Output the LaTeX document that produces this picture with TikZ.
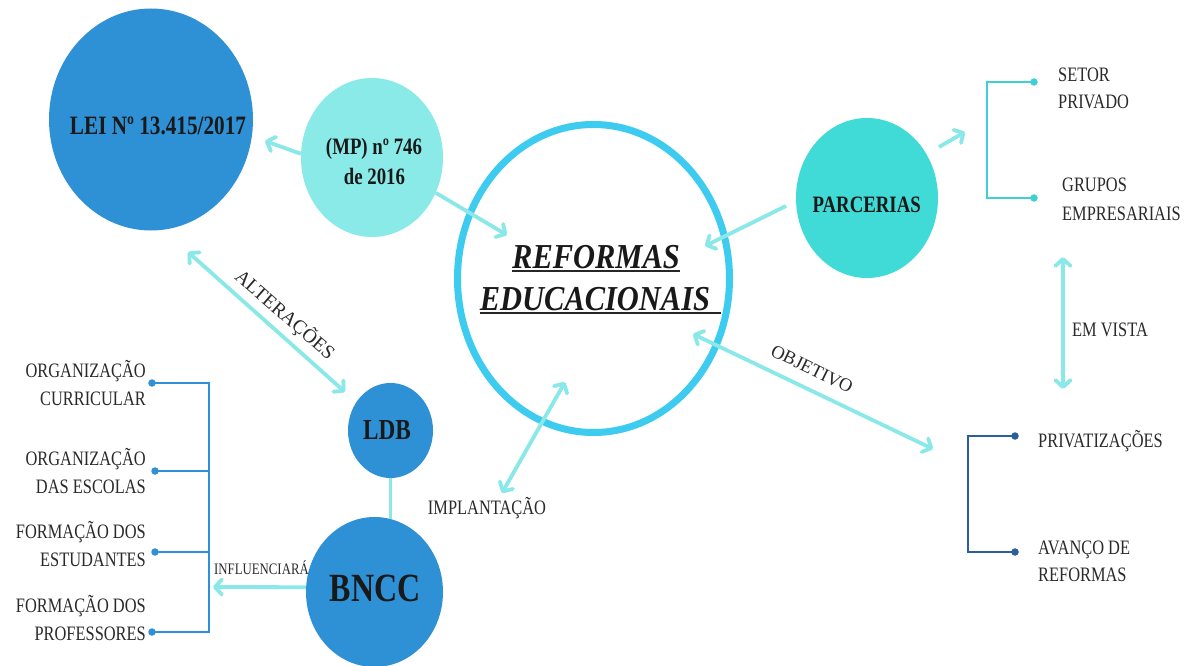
\documentclass[tikz,border=0pt]{standalone}
\usepackage{fontspec}
\setmainfont{Liberation Serif}[FakeStretch=0.8]
\newfontfamily\titlefont{Liberation Serif}[FakeStretch=0.87]
\newfontfamily\plainfont{Liberation Serif}
\usetikzlibrary{shapes.geometric,arrows.meta}
\newcommand\fsz[1]{\fontsize{#1}{#1}\selectfont}
\definecolor{deepblue}{HTML}{2E90D5}
\definecolor{mpcol}{HTML}{8AEAE7}
\definecolor{parccol}{HTML}{40DBD6}
\definecolor{ringcol}{HTML}{3DCBF0}
\definecolor{arrowc}{HTML}{8BE8E8}
\definecolor{brleft}{HTML}{2F8FD9}
\definecolor{brtop}{HTML}{3FCFD6}
\definecolor{brbot}{HTML}{2A5E9C}
\definecolor{labelc}{HTML}{2A2A2A}
\tikzset{
  blob/.style={ellipse, inner sep=0pt, draw=none},
  bt/.style={inner sep=0pt, text=black!90, anchor=base},
  lbl/.style={inner sep=0pt, text=labelc, font=\fsz{20.5}},
  slant/.style={inner sep=0pt, text=labelc},
  arr/.style={draw=arrowc, line width=3.8pt, -{Straight Barb[length=7pt,width=15pt,round]}},
  dbl/.style={draw=arrowc, line width=3.8pt, {Straight Barb[length=7pt,width=15pt,round]}-{Straight Barb[length=7pt,width=15pt,round]}},
  brk/.style={line width=2.8pt},
  brdot/.style={circle, inner sep=0pt, minimum size=7.5pt},
}
\begin{document}
\begin{tikzpicture}[x=1pt,y=-1pt]
\fill[white] (0,0) rectangle (1189,666);
\useasboundingbox (0,0) rectangle (1189,666);

% main circles
\node[blob, fill=deepblue, minimum width=204pt, minimum height=222pt] (lei) at (151,119.5) {};
\node[blob, fill=mpcol, minimum width=142pt, minimum height=159pt] (mp) at (372,157.5) {};
\node[blob, draw=ringcol, line width=7pt, minimum width=272pt, minimum height=308pt] (ref) at (593.5,278.5) {};
\node[blob, fill=parccol, minimum width=142pt, minimum height=160pt] (parc) at (867,198) {};
\node[blob, fill=deepblue, minimum width=85pt, minimum height=95pt] (ldb) at (390.5,430.5) {};
\node[blob, fill=deepblue, minimum width=137pt, minimum height=150pt] (bncc) at (374.5,592) {};

% texts inside circles
\node[bt, font=\bfseries\fsz{26.5}] (leiT) at (158,135) {LEI Nº 13.415/2017};
\node[bt, font=\bfseries\fsz{23.5}] (mpT1) at (374,155) {(MP) nº 746};
\node[bt, font=\bfseries\fsz{23.5}] (mpT2) at (374.5,185) {de 2016};
\node[bt, font=\bfseries\fsz{23.5}] (parcT) at (866.7,212.3) {PARCERIAS};
\node[bt, font=\bfseries\fsz{29}] (ldbT) at (387,439.3) {LDB};
\node[bt, font=\bfseries\fsz{40}] (bnccT) at (375,601.7) {BNCC};

% title in the ring
\node[bt, font=\titlefont\bfseries\itshape\fsz{35}] (refT1) at (596,268) {REFORMAS};
\node[bt, font=\titlefont\bfseries\itshape\fsz{35}] (refT2) at (595,310) {EDUCACIONAIS};
\draw[line width=2pt, black!85] ([yshift=-3pt]refT1.base west) -- ([yshift=-3pt]refT1.base east);
\draw[line width=2pt, black!85] ([yshift=-3pt]refT2.base west) -- ([yshift=-3pt,xshift=11pt]refT2.base east);

% arrow end points
\coordinate (leiIn) at (265,141);
\coordinate (refInA) at (507,235);
\coordinate (altA) at (188,252);
\coordinate (altB) at (345,392);
\coordinate (infTip) at (213,587);
\coordinate (impA) at (502,493);
\coordinate (impB) at (565,382);
\coordinate (objA) at (693,334);
\coordinate (objB) at (933,449);
\coordinate (parcOut) at (786,206);
\coordinate (refInB) at (705,246);
\coordinate (parcUp) at (939,147);
\coordinate (parcTip) at (965,132);
\coordinate (vistaA) at (1063,257);
\coordinate (vistaB) at (1063,389);

% connectors
\draw[arr] (mp.177) -- (leiIn);
\draw[arr] (mp.-29) -- (refInA);
\draw[dbl] (altA) -- (altB);
\draw[draw=arrowc, line width=3.8pt] (ldb.south) -- ([yshift=-2pt]ldb.south |- bncc.north);
\draw[arr] (bncc.176) -- (infTip);
\draw[dbl] (impA) -- (impB);
\draw[dbl] (objA) -- (objB);
\draw[arr] (parcOut) -- (refInB);
\draw[arr] (parcUp) -- (parcTip);
\draw[dbl] (vistaA) -- (vistaB);

% connector labels
\node[slant, font=\plainfont\fsz{19.5}, rotate=-41] (altT) at (285,315) {ALTERAÇÕES};
\node[slant, font=\plainfont\fsz{18.5}, rotate=-26] (objT) at (812,369) {OBJETIVO};
\node[lbl, anchor=base] (impT) at (487,514) {IMPLANTAÇÃO};
\node[lbl, anchor=base, font=\fsz{16}] (infT) at (261.5,574) {INFLUENCIARÁ};
\node[lbl, anchor=base west] (vistaT) at (1072,336.7) {EM VISTA};

% left bracket
\coordinate (lx) at (209,0);
\node[brdot, fill=brleft] (l1) at (152,383) {};
\node[brdot, fill=brleft] (l2) at (155,471) {};
\node[brdot, fill=brleft] (l3) at (155,552) {};
\node[brdot, fill=brleft] (l4) at (152,632) {};
\draw[brk, brleft] (l1.center) -- (l1 -| lx) -- (l4 -| lx) -- (l4.center);
\draw[brk, brleft] (l2.center) -- (l2 -| lx);
\draw[brk, brleft] (l3.center) -- (l3 -| lx);
\node[lbl, anchor=base east] (c1a) at (146,377.3) {ORGANIZAÇÃO};
\node[lbl, anchor=base east] (c1b) at (146,405.5) {CURRICULAR};
\node[lbl, anchor=base east] (c2a) at (146,465.5) {ORGANIZAÇÃO};
\node[lbl, anchor=base east] (c2b) at (146,493.3) {DAS ESCOLAS};
\node[lbl, anchor=base east] (c3a) at (146,538.3) {FORMAÇÃO DOS};
\node[lbl, anchor=base east] (c3b) at (146,566.7) {ESTUDANTES};
\node[lbl, anchor=base east] (c4a) at (146,612.7) {FORMAÇÃO DOS};
\node[lbl, anchor=base east] (c4b) at (146,640) {PROFESSORES};

% top right bracket
\coordinate (tx) at (987,0);
\node[brdot, fill=brtop] (t1) at (1034,82) {};
\node[brdot, fill=brtop] (t2) at (1034,198) {};
\draw[brk, brtop] (t1.center) -- (t1 -| tx) -- (t2 -| tx) -- (t2.center);
\node[lbl, anchor=base west] (s1a) at (1058,82) {SETOR};
\node[lbl, anchor=base west] (s1b) at (1058,109) {PRIVADO};
\node[lbl, anchor=base west] (s2a) at (1062,192) {GRUPOS};
\node[lbl, anchor=base west] (s2b) at (1062,220) {EMPRESARIAIS};

% bottom right bracket
\coordinate (bx) at (968,0);
\node[brdot, fill=brbot] (b1) at (1015,436) {};
\node[brdot, fill=brbot] (b2) at (1015,552) {};
\draw[brk, brbot] (b1.center) -- (b1 -| bx) -- (b2 -| bx) -- (b2.center);
\node[lbl, anchor=base west] (p1) at (1038,447.3) {PRIVATIZAÇÕES};
\node[lbl, anchor=base west] (p2a) at (1038,554) {AVANÇO DE};
\node[lbl, anchor=base west] (p2b) at (1038,581.7) {REFORMAS};
\end{tikzpicture}
\end{document}
